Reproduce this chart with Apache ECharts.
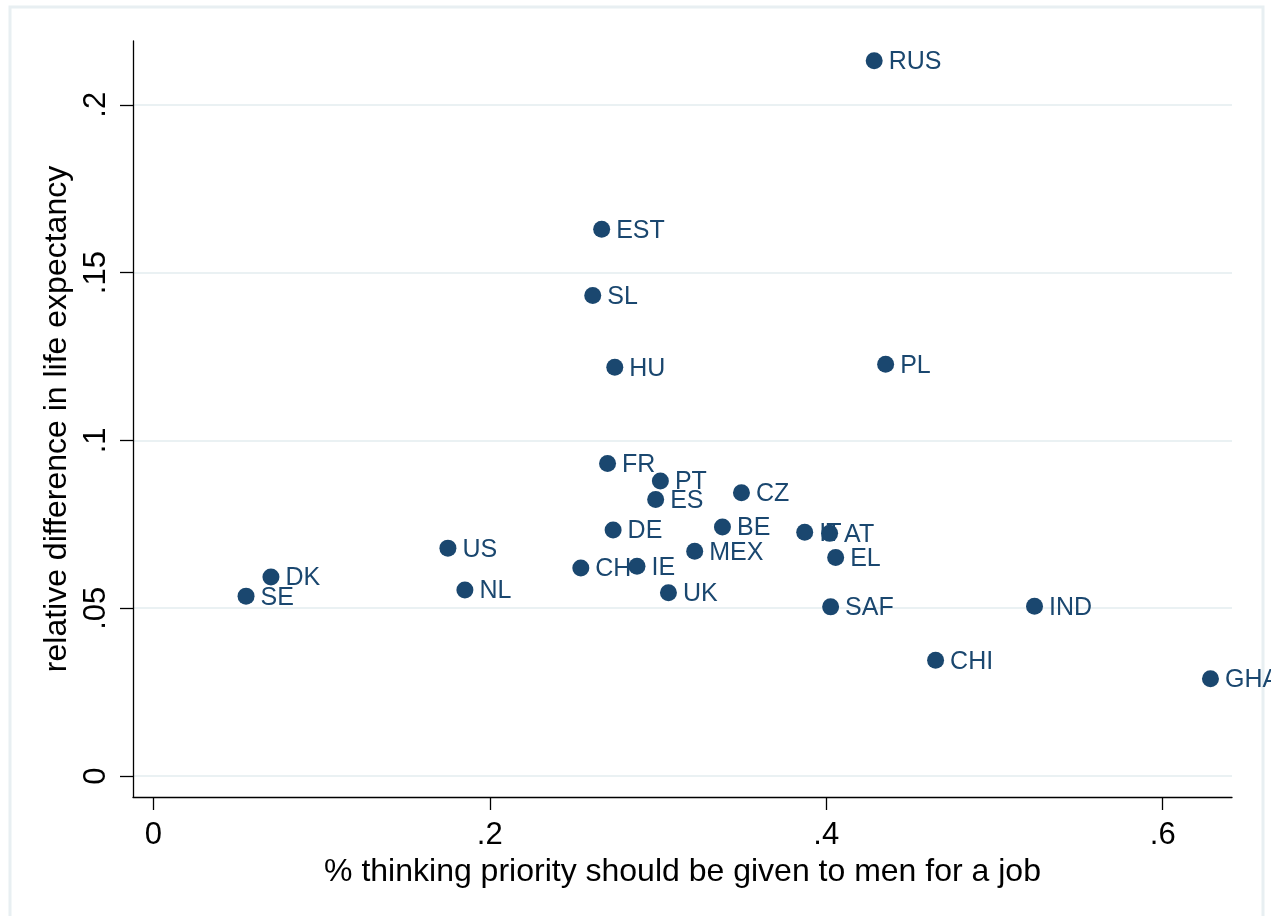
<!DOCTYPE html>
<html>
<head>
<meta charset="utf-8">
<script src="https://cdn.jsdelivr.net/npm/echarts@6/dist/echarts.min.js"></script>
<style>
  html, body { margin: 0; padding: 0; background: #ffffff; }
  #chart { width: 1271px; height: 916px; }
</style>
</head>
<body>
<div id="chart"></div>
<script>
// Country codes and their values
const countries = ['RUS','EST','SL','HU','PL','FR','PT','ES','CZ','DE','BE','IT','AT','MEX','EL',
                   'US','CH','IE','DK','SE','NL','UK','SAF','IND','CHI','GHA'];
// share thinking men should get priority for a job
const menPriority = [0.4285, 0.2665, 0.2612, 0.2743, 0.4353, 0.2700, 0.3014, 0.2986, 0.3496, 0.2733,
                     0.3383, 0.3872, 0.4020, 0.3218, 0.4056, 0.1751, 0.2541, 0.2875, 0.0699, 0.0551,
                     0.1852, 0.3062, 0.4026, 0.5238, 0.4650, 0.6284];
// relative difference in life expectancy
const lifeExpDiff = [0.2131, 0.1629, 0.1432, 0.1218, 0.1227, 0.0931, 0.0879, 0.0824, 0.0844, 0.0733,
                     0.0742, 0.0726, 0.0723, 0.0670, 0.0651, 0.0679, 0.0620, 0.0625, 0.0593, 0.0536,
                     0.0554, 0.0546, 0.0504, 0.0506, 0.0345, 0.0290];

const xTicks = [0, 0.2, 0.4, 0.6];
const yTicks = [0, 0.05, 0.1, 0.15, 0.2];
const stataNum = v => (v === 0 ? '0' : String(+v.toFixed(4)).replace(/^0\./, '.'));

const FONT = "'Liberation Sans', Arial, sans-serif";
const NAVY = '#1a476f';
const GRID = '#eaf1f3';

const points = countries.map((c, i) => ({ name: c, value: [menPriority[i], lifeExpDiff[i]] }));

const chart = echarts.init(document.getElementById('chart'), null, { renderer: 'canvas' });
chart.setOption({
  backgroundColor: '#ffffff',
  animation: false,
  graphic: [{
    type: 'rect',
    shape: { x: 10, y: 7, width: 1253, height: 920 },
    style: { fill: 'none', stroke: '#e8eff2', lineWidth: 3 },
    silent: true
  }],
  grid: { left: 133, right: 39, top: 41, bottom: 119, containLabel: false },
  xAxis: {
    type: 'value',
    min: -0.0121,
    max: 0.6412,
    name: '% thinking priority should be given to men for a job',
    nameLocation: 'middle',
    nameGap: 52,
    nameTextStyle: { fontFamily: FONT, fontSize: 32, color: '#000' },
    axisLine: { show: true, onZero: false, lineStyle: { color: '#000', width: 1.3 } },
    axisTick: { show: true, length: 13, customValues: xTicks, lineStyle: { color: '#000', width: 1.3 } },
    axisLabel: { customValues: xTicks, formatter: stataNum, margin: 23, fontFamily: FONT, fontSize: 31, color: '#000' },
    splitLine: { show: false }
  },
  yAxis: {
    type: 'value',
    min: -0.00625,
    max: 0.219,
    name: 'relative difference in life expectancy',
    nameLocation: 'middle',
    nameGap: 52,
    nameRotate: 90,
    nameTextStyle: { fontFamily: FONT, fontSize: 32, color: '#000' },
    axisLine: { show: true, onZero: false, lineStyle: { color: '#000', width: 1.3 } },
    axisTick: { show: true, length: 13, customValues: yTicks, lineStyle: { color: '#000', width: 1.3 } },
    axisLabel: { customValues: yTicks, formatter: stataNum, rotate: 90, margin: 21, fontFamily: FONT, fontSize: 31, color: '#000' },
    splitLine: { show: true, lineStyle: { color: GRID, width: 2 } }
  },
  series: [{
    type: 'scatter',
    data: points,
    symbol: 'circle',
    symbolSize: 17,
    itemStyle: { color: NAVY, opacity: 1 },
    label: {
      show: true,
      position: 'right',
      distance: 6,
      offset: [0, 1.5],
      formatter: p => p.name,
      fontFamily: FONT,
      fontSize: 25,
      color: NAVY
    }
  }]
});
</script>
</body>
</html>
